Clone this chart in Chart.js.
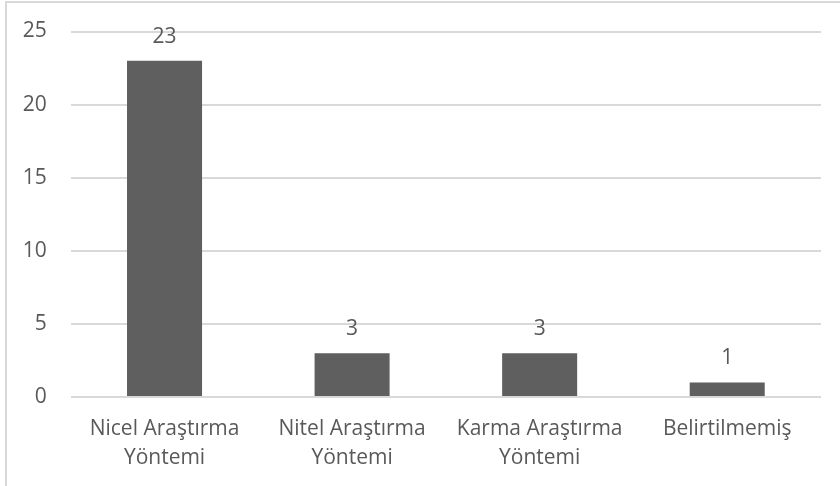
<!DOCTYPE html>
<html>
<head>
<meta charset="utf-8">
<script src="https://cdn.jsdelivr.net/npm/chart.js@4.4.1/dist/chart.umd.min.js"></script>
<style>
  html, body { margin: 0; padding: 0; background: #ffffff; overflow: hidden; }
  #frame { position: absolute; left: 5px; top: 1px; width: 900px; height: 600px; border: 2px solid #d9d9d9; box-sizing: border-box; }
  #wrap { position: absolute; left: 0; top: 0; width: 840px; height: 486px; }
</style>
</head>
<body>
<div id="frame"></div>
<div id="wrap"><canvas id="c" width="840" height="486"></canvas></div>
<script>
const categories = [
  ["Nicel Araştırma", "Yöntemi"],
  ["Nitel Araştırma", "Yöntemi"],
  ["Karma Araştırma", "Yöntemi"],
  ["Belirtilmemiş"]
];
const values = [23, 3, 3, 1];
const yTicks = [0, 5, 10, 15, 20, 25];

const FONT = "'Open Sans', 'Noto Sans', sans-serif";
const TEXT = '#595959';

const dataLabels = {
  id: 'dataLabels',
  afterDatasetsDraw(chart) {
    const ctx = chart.ctx;
    const meta = chart.getDatasetMeta(0);
    ctx.save();
    ctx.font = '21px ' + FONT;
    ctx.fillStyle = TEXT;
    ctx.textAlign = 'center';
    ctx.textBaseline = 'alphabetic';
    meta.data.forEach((bar, i) => {
      ctx.fillText(String(values[i]), bar.x, bar.y - 18);
    });
    ctx.restore();
  }
};

new Chart(document.getElementById('c'), {
  type: 'bar',
  data: {
    labels: categories,
    datasets: [{
      data: values,
      backgroundColor: '#5f5f5f',
      borderWidth: 0,
      barPercentage: 0.4,
      categoryPercentage: 1.0
    }]
  },
  options: {
    responsive: false,
    animation: false,
    layout: { padding: { top: 31.5, right: 19, left: 0, bottom: 0 } },
    plugins: { legend: { display: false }, tooltip: { enabled: false } },
    scales: {
      x: {
        grid: { display: false, drawTicks: false },
        border: { display: false },
        ticks: {
          color: TEXT,
          font: { family: FONT, size: 21, lineHeight: 1.38 },
          padding: 18,
          maxRotation: 0,
          autoSkip: false
        },
        afterFit(scale) { scale.height = 89; }
      },
      y: {
        min: 0,
        max: 25,
        afterBuildTicks(scale) { scale.ticks = yTicks.map(v => ({ value: v })); },
        grid: { color: '#d9d9d9', lineWidth: 2, drawTicks: false },
        border: { display: false },
        ticks: {
          color: TEXT,
          font: { family: FONT, size: 21 },
          padding: 24
        },
        afterFit(scale) {
          scale.width = 70.75;
          scale.paddingTop = 0;
          scale.paddingBottom = 0;
        }
      }
    }
  },
  plugins: [dataLabels]
});
</script>
</body>
</html>
